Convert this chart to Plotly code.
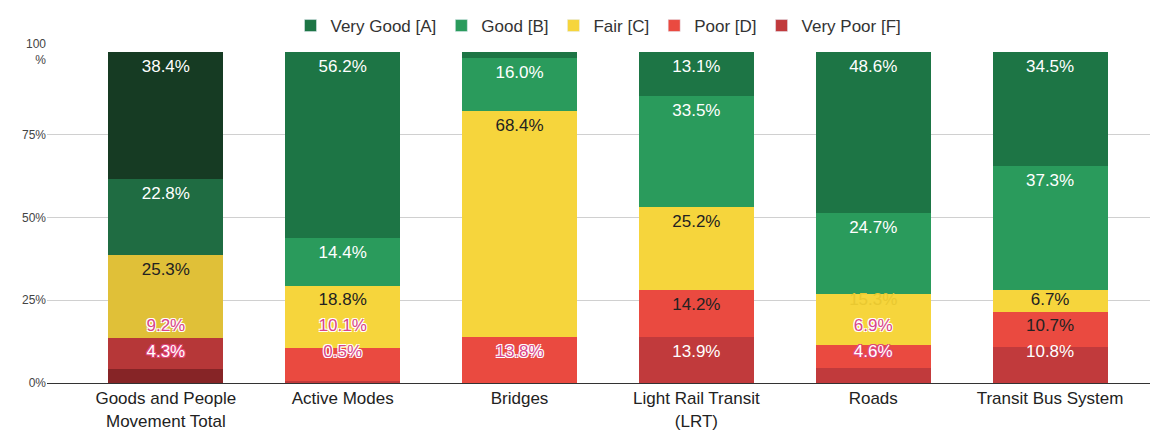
import plotly.graph_objects as go

categories = ["Goods and People<br>Movement Total", "Active Modes", "Bridges",
              "Light Rail Transit<br>(LRT)", "Roads", "Transit Bus System"]
very_good = [38.4, 56.2, 1.8, 13.1, 48.6, 34.5]
good = [22.8, 14.4, 16.0, 33.5, 24.7, 37.3]
fair = [25.3, 18.8, 68.4, 25.2, 15.3, 6.7]
poor = [9.2, 10.1, 13.8, 14.2, 6.9, 10.7]
very_poor = [4.3, 0.5, 0.0, 13.9, 4.6, 10.8]
series_names = ["Very Good [A]", "Good [B]", "Fair [C]", "Poor [D]", "Very Poor [F]"]
tick_vals = [0, 25, 50, 75, 100]
tick_text = ["0%", "25%", "50%", "75%", "100<br>%"]

# styles
base_colors = ["#1d7545", "#2a9b5c", "#f6d53c", "#ea4a40", "#c13a3c"]
total_colors = ["#163b23", "#1f6c42", "#e0c038", "#b63738", "#862426"]
# label style codes: w white, k dark, y yellow, p pink w/ white halo, o white w/ pink halo
label_styles = {
    "Very Good [A]": "wwwwww",
    "Good [B]": "wwwwww",
    "Fair [C]": "kkkkyk",
    "Poor [D]": "pppkpk",
    "Very Poor [F]": "opwwow",
}
halo_w = "-1px -1px 0 #fff, 1px -1px 0 #fff, -1px 1px 0 #fff, 1px 1px 0 #fff"
halo_p = "-1px -1px 0 #e0457a, 1px -1px 0 #e0457a, -1px 1px 0 #e0457a, 1px 1px 0 #e0457a"
style_fonts = {
    "w": dict(color="white", shadow="none"),
    "k": dict(color="#222", shadow="none"),
    "y": dict(color="#e9c830", shadow="none"),
    "p": dict(color="#d9468a", shadow=halo_w),
    "o": dict(color="#ffffff", shadow=halo_p),
}
FONT = "Liberation Sans, Arial"

values = [very_good, good, fair, poor, very_poor]
n = len(categories)
xs = list(range(n))

fig = go.Figure()
# bars, bottom series first so it stacks at the bottom
for idx in reversed(range(5)):
    vals = values[idx]
    cols = [total_colors[idx]] + [base_colors[idx]] * (n - 1)
    fig.add_trace(go.Bar(
        x=xs, y=vals, name=series_names[idx], showlegend=False,
        marker=dict(color=cols, line=dict(width=0)),
        width=0.65, hoverinfo="skip",
    ))

# legend entries using the base colours
for idx in range(5):
    fig.add_trace(go.Bar(
        x=[None], y=[None], name=series_names[idx],
        marker=dict(color=base_colors[idx]), showlegend=True, hoverinfo="skip",
    ))

# data labels: near the top of each segment, pushed up to avoid overlaps
label_y = [[None] * n for _ in range(5)]
for j in range(n):
    cum = 0.0
    prev = None
    for idx in reversed(range(5)):
        v = values[idx][j]
        cum += v
        if v < 0.3 or (idx == 0 and v < 3):
            continue
        y = cum - 4.8
        lo = 9.0 if prev is None else prev + 8.0
        y = max(y, lo)
        label_y[idx][j] = y
        prev = y

for idx in reversed(range(5)):
    name = series_names[idx]
    vals = values[idx]
    codes = label_styles[name]
    for code, f in style_fonts.items():
        px = [j for j in range(n) if codes[j] == code and label_y[idx][j] is not None]
        if not px:
            continue
        fig.add_trace(go.Scatter(
            x=px, y=[label_y[idx][j] for j in px], mode="text",
            text=[f"{vals[j]:.1f}%" for j in px],
            textposition="middle center", showlegend=False, hoverinfo="skip",
            textfont=dict(size=17, family=FONT, **f),
            cliponaxis=False,
        ))

fig.update_layout(
    barmode="stack",
    width=1154, height=423,
    margin=dict(l=39, r=12, t=44, b=48),
    plot_bgcolor="white", paper_bgcolor="white",
    font=dict(family=FONT, color="#444", size=13),
    legend=dict(orientation="h", x=0.5, xanchor="center",
                yref="container", y=1.0, yanchor="top",
                traceorder="normal", font=dict(size=17, color="#333"),
                itemwidth=30),
    showlegend=True,
)
fig.update_xaxes(
    tickvals=xs, ticktext=categories, automargin=False,
    range=[-0.672, 5.565], showgrid=False,
    showline=True, linecolor="#333", linewidth=1,
    tickfont=dict(size=17, color="#222"), ticks="",
)
fig.update_yaxes(
    range=[0, 100], tickvals=tick_vals, ticktext=tick_text, automargin=False,
    showgrid=True, gridcolor="#d0d0d0", gridwidth=1, zeroline=False,
    tickfont=dict(size=12, color="#444"), ticks="",
)

fig.write_html("out.html")
